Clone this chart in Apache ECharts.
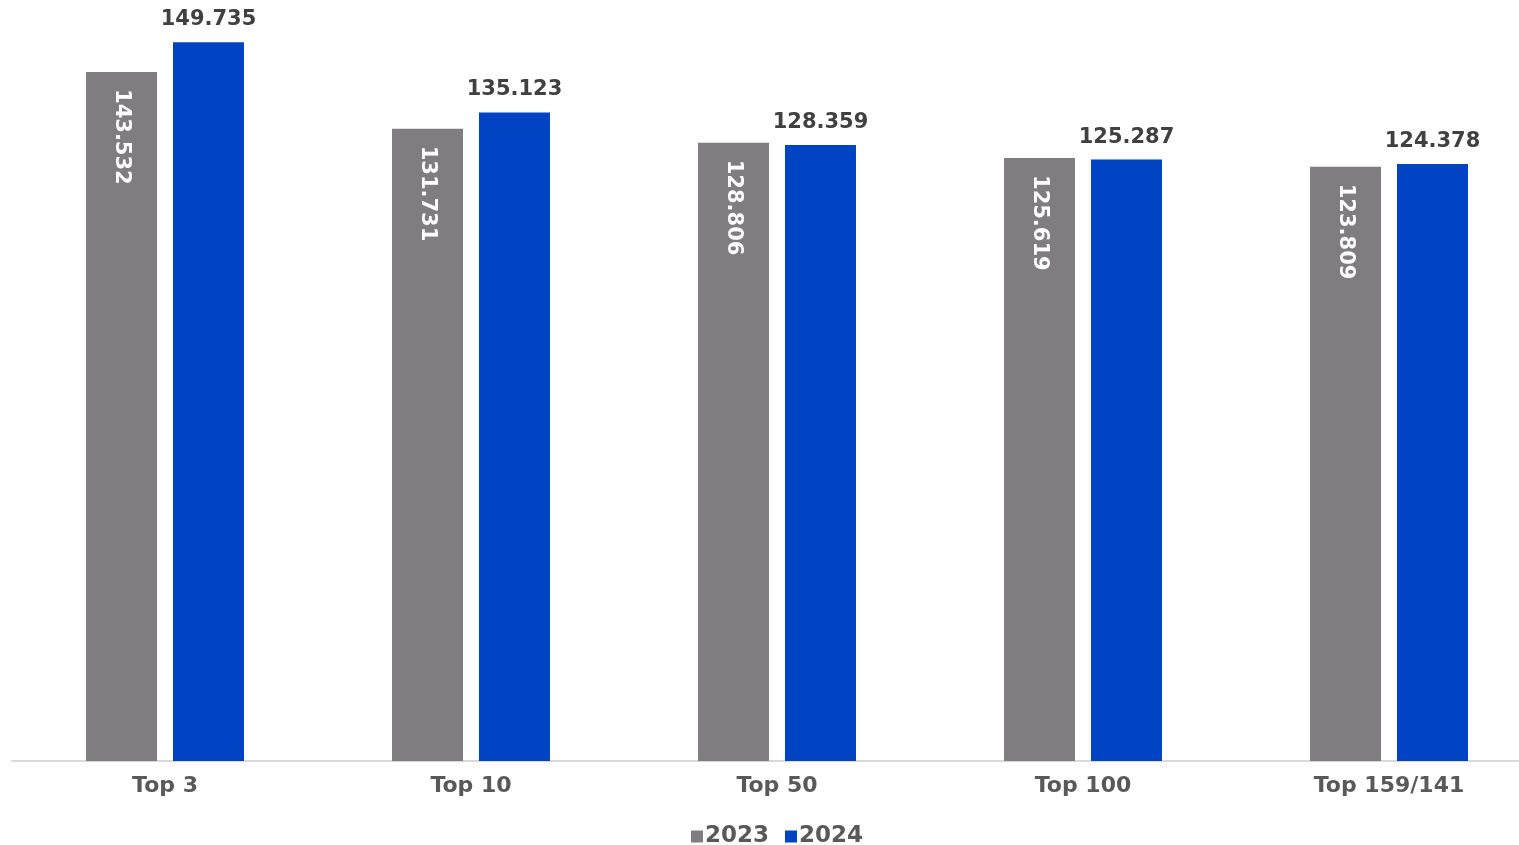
<!DOCTYPE html>
<html>
<head>
<meta charset="utf-8">
<script src="https://cdn.jsdelivr.net/npm/echarts@6/dist/echarts.min.js"></script>
<style>
html,body{margin:0;padding:0;background:#fff;overflow:hidden;width:1519px;height:845px;}
#chart{width:1542px;height:845px;}
</style>
</head>
<body>
<div id="chart"></div>
<script>
const categories = ['Top 3', 'Top 10', 'Top 50', 'Top 100', 'Top 159/141'];
const seriesNames = ['2023', '2024'];
const values2023 = [143.532, 131.731, 128.806, 125.619, 123.809];
const values2024 = [149.735, 135.123, 128.359, 125.287, 124.378];

const FONT = 'DejaVu Sans';
const fmt = p => p.value.toFixed(3);

const chart = echarts.init(document.getElementById('chart'), null, {renderer: 'canvas'});
chart.setOption({
  animation: false,
  backgroundColor: '#ffffff',
  grid: {left: 12, top: 41, bottom: 84, right: 0},
  legend: {
    data: seriesNames,
    left: 686, top: 820,
    itemWidth: 12, itemHeight: 12, itemGap: 16,
    icon: 'rect',
    textStyle: {fontFamily: FONT, fontWeight: 'bold', fontSize: 23, color: '#595959', padding: [0, 0, 0, -3]}
  },
  xAxis: {
    type: 'category',
    data: categories,
    axisLine: {lineStyle: {color: '#d9d9d9', width: 2}},
    axisTick: {show: false},
    axisLabel: {fontFamily: FONT, fontWeight: 'bold', fontSize: 22, color: '#595959', margin: 14}
  },
  yAxis: {
    type: 'value', min: 0, max: 150,
    show: false,
    splitLine: {show: false}
  },
  series: [
    {
      name: seriesNames[0], type: 'bar', data: values2023,
      barWidth: 71, barGap: '22.5%',
      itemStyle: {color: '#7f7d80'},
      label: {
        show: true, position: 'insideTop', rotate: -90, align: 'left', verticalAlign: 'middle',
        distance: 17, formatter: fmt,
        fontFamily: FONT, fontWeight: 'bold', fontSize: 21, color: '#ffffff'
      }
    },
    {
      name: seriesNames[1], type: 'bar', data: values2024,
      barWidth: 71,
      itemStyle: {color: '#0044c4'},
      label: {
        show: true, position: 'top', distance: 12, formatter: fmt,
        fontFamily: FONT, fontWeight: 'bold', fontSize: 21, color: '#404040'
      }
    }
  ]
});
</script>
</body>
</html>
